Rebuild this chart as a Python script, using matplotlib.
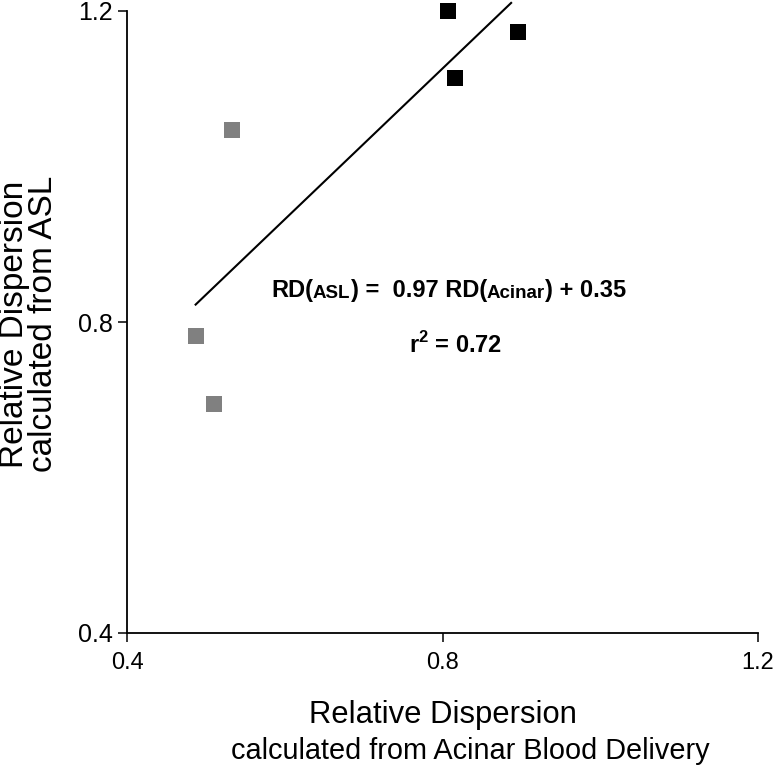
import matplotlib
matplotlib.use("Agg")
from matplotlib import pyplot as plt

plt.rcParams['font.family'] = ['Liberation Sans', 'DejaVu Sans']
plt.rcParams['mathtext.fontset'] = 'custom'
plt.rcParams['mathtext.rm'] = 'Liberation Sans'
plt.rcParams['mathtext.bf'] = 'Liberation Sans:bold'

# Data
black_x = [0.807, 0.816, 0.896]
black_y = [1.200, 1.114, 1.173]
gray_x = [0.533, 0.487, 0.510]
gray_y = [1.047, 0.782, 0.695]

# Regression line RD(ASL) = 0.97 RD(Acinar) + 0.35
fit_slope = 0.97
fit_intercept = 0.35
fit_x = [0.487, 0.887]

ticks = [0.4, 0.8, 1.2]
tick_labels = ["0.4", "0.8", "1.2"]

fig = plt.figure(figsize=(7.73, 7.66), dpi=100)
W, H = 773, 766
ax = fig.add_axes([127 / W, (H - 633) / H, (758 - 127) / W, (633 - 11) / H])

ax.plot(gray_x, gray_y, 's', color='#808080', markersize=11, markeredgewidth=0, clip_on=False)
ax.plot(black_x, black_y, 's', color='black', markersize=11, markeredgewidth=0, clip_on=False)

fit_y = [fit_slope * x + fit_intercept for x in fit_x]
ax.plot(fit_x, fit_y, color='black', linewidth=1.5, clip_on=False)

ax.set_xlim(0.4, 1.2)
ax.set_ylim(0.4, 1.2)
ax.set_xticks(ticks)
ax.set_xticklabels(tick_labels)
ax.set_yticks(ticks)
ax.set_yticklabels(tick_labels)
ax.tick_params(axis='x', labelsize=17, length=6.5, width=1.1, pad=7, direction='out')
ax.tick_params(axis='y', labelsize=18, length=6.5, width=1.1, pad=3.5, direction='out')
ax.spines['top'].set_visible(False)
ax.spines['right'].set_visible(False)
for s in ['left', 'bottom']:
    ax.spines[s].set_linewidth(1.3)

# Equation, built piece by piece so the subscripts are smaller
pieces = [("RD(", 17), ("ASL", 13.5), (") =  0.97 RD(", 17), ("Acinar", 13.5), (") + 0.35", 17)]
prev = ax.text(0.5826, 0.8325, pieces[0][0], fontsize=pieces[0][1], fontweight='bold',
               ha='left', va='baseline')
for txt, size in pieces[1:]:
    prev = ax.annotate(txt, xy=(1, 0), xycoords=prev, fontsize=size, fontweight='bold',
                       ha='left', va='bottom')

ax.text(0.7575, 0.760, r'r$^{\mathbf{2}}$ = 0.72', fontsize=17, fontweight='bold',
        ha='left', va='baseline')

# Axis labels
fig.text(29 / W, 1 - 324 / H, "Relative Dispersion\ncalculated from ASL", rotation=90,
         fontsize=24, ha='center', va='center', linespacing=0.9)
fig.text(443 / W, 1 - 723 / H, "Relative Dispersion", fontsize=22.3, ha='center', va='baseline')
fig.text(470 / W, 1 - 759 / H, "calculated from Acinar Blood Delivery", fontsize=20.8,
         ha='center', va='baseline')

fig.savefig("out.png", dpi=100)
